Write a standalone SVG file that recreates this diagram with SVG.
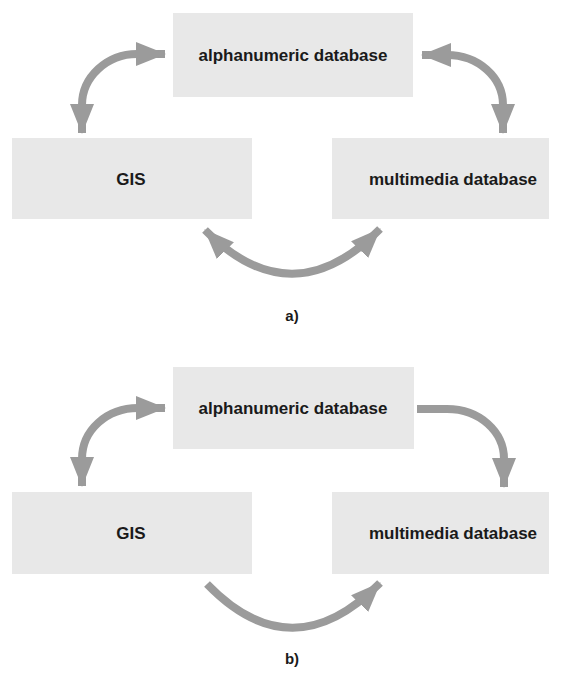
<svg xmlns="http://www.w3.org/2000/svg" width="562" height="677" viewBox="0 0 562 677">
<style>
.box{fill:#e8e8e8;}
.lbl{font-family:"Liberation Sans",Arial,sans-serif;font-weight:bold;font-size:17px;fill:#1a1a1a;text-anchor:middle;}
.cap{font-family:"Liberation Sans",Arial,sans-serif;font-weight:bold;font-size:15px;fill:#1a1a1a;text-anchor:middle;}
.arr{fill:none;stroke:#9b9b9b;stroke-width:8;}
</style>
<defs>
<marker id="head" markerUnits="userSpaceOnUse" markerWidth="30" markerHeight="24" viewBox="0 0 30 24" refX="29" refY="12" orient="auto-start-reverse">
<path d="M0 0 L30 12 L0 24 Z" fill="#9b9b9b"/>
</marker>
</defs>
<rect width="562" height="677" fill="#ffffff"/>

<g id="a-alphanumeric"><rect class="box" x="173" y="13" width="240" height="84"/><text class="lbl" x="293" y="61">alphanumeric database</text></g>
<g id="a-gis"><rect class="box" x="12" y="138" width="240" height="81"/><text class="lbl" x="131" y="185">GIS</text></g>
<g id="a-multimedia"><rect class="box" x="332" y="138" width="217" height="81"/><text class="lbl" x="453" y="185">multimedia database</text></g>
<text class="cap" x="292" y="321">a)</text>

<g id="b-alphanumeric"><rect class="box" x="173" y="367" width="241" height="82"/><text class="lbl" x="293" y="414">alphanumeric database</text></g>
<g id="b-gis"><rect class="box" x="12" y="492" width="240" height="82"/><text class="lbl" x="131" y="539">GIS</text></g>
<g id="b-multimedia"><rect class="box" x="332" y="492" width="217" height="82"/><text class="lbl" x="453" y="539">multimedia database</text></g>
<text class="cap" x="292" y="664">b)</text>

<g id="connectors">
<path class="arr" d="M165 54 L137 54 C107 54 82 77 82 105 L82 133" marker-start="url(#head)" marker-end="url(#head)"/>
<path class="arr" d="M422 55 L447 55 C478 55 503 77 503 105 L503 133" marker-start="url(#head)" marker-end="url(#head)"/>
<path class="arr" d="M205 230 Q292 318 380 229" marker-start="url(#head)" marker-end="url(#head)"/>
<path class="arr" d="M165 408 L138 408 C107 408 82 430 82 459 L82 486" marker-start="url(#head)" marker-end="url(#head)"/>
<path class="arr" d="M417 409 L447 409 C480 409 504 432 504 459 L504 487" marker-end="url(#head)"/>
<path class="arr" d="M207 584 Q292 672 380 583" marker-end="url(#head)"/>
</g>
</svg>
